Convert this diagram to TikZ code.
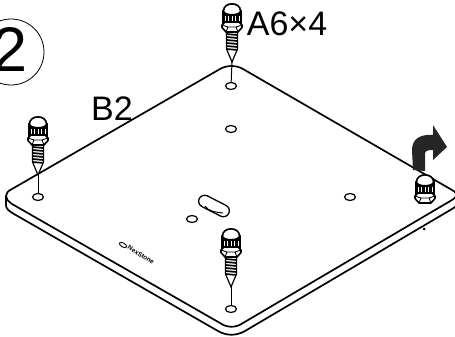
\documentclass[tikz,border=0pt]{standalone}
\usepackage{fontspec}
\setmainfont{Liberation Sans}
\usetikzlibrary{positioning,shapes.geometric}
\tikzset{
  hole/.style={ellipse,draw,line width=1.2pt,minimum width=11pt,minimum height=7pt,inner sep=0pt},
  plateline/.style={line width=1.7pt,line join=round},
  callout/.style={inner sep=0pt,font=\fontsize{34}{34}\selectfont},
  guide/.style={line width=1pt},
  screwhead/.pic={
    % knurled collar
    \fill (-10,-52) -- (10,-52) -- (10,-38) -- (-10,-38) -- cycle;
    \foreach \i in {-7,-3.5,0,3.5,7} \draw[white,line width=.4pt] (\i,-46) -- (\i,-41);
    % cap
    \draw[line width=1.6pt,fill=white] (-8.5,-51) .. controls (-8.5,-60.5) and (8.5,-60.5) .. (8.5,-51)
      .. controls (8.5,-46) and (-8.5,-46) .. cycle;
    % hex nut
    \draw[line width=1.6pt,fill=white,line join=round] (-10,-37) -- (-7,-40) -- (7,-40) -- (10,-37) -- (10,-34.5) -- (6,-30) -- (-6,-30) -- (-10,-34.5) -- cycle;
    \draw[line width=.9pt] (-10,-37) -- (-4,-35) -- (4,-35) -- (10,-37) (-4,-35) -- (-6,-30) (4,-35) -- (6,-30);
  },
  screwthread/.pic={
    \fill[white] (-5.5,-30) -- (5.5,-30) -- (5.5,-13) -- (0,0) -- (-5.5,-13) -- cycle;
    \foreach \i in {-28,-25,-22,-19,-16,-13} \draw[line width=1.7pt] (-5.5,\i) -- (5.5,\i+1);
    \draw[line width=1.2pt] (-5.5,-30) -- (-5.5,-13) -- (0,0) -- (5.5,-13) -- (5.5,-30);
  }
}
\begin{document}
\begin{tikzpicture}[x=1pt,y=-1pt]
  \useasboundingbox (0,0) rectangle (455,337);
  % plate
  \draw[plateline] (12,189) -- (220,69) .. controls (227,65) and (236,65) .. (243,69)
    -- (452,190) .. controls (458,193.5) and (458,196) .. (452,200)
    -- (243,323) .. controls (236,328) and (227,328) .. (220,323)
    -- (12,204) .. controls (8,201) and (6,199) .. (6,196)
    .. controls (6,193) and (8,191) .. (12,189);
  \draw[plateline] (6,196) -- (6,205) .. controls (6,209) and (9,211) .. (14,214)
    -- (218,331) .. controls (227,336) and (236,336) .. (245,331)
    -- (452,209) .. controls (456,207) and (458,204) .. (458,198);
  % holes
  \node[hole] (holeTop) at (231,86) {};
  \node[hole] (holeLeft) at (38,197) {};
  \node[hole] (holeBottom) at (231,309) {};
  \node[hole] (holeUpper) at (231,129) {};
  \node[hole] (holeRight) at (350,197) {};
  \node[hole] (holeCenter) at (192,219) {};
  \node[draw,line width=1.3pt,rounded corners=6pt,minimum width=33pt,minimum height=12pt,inner sep=0pt,rotate=-27] (slot) at (214,206) {};
  \draw[line width=1pt] (205,206) .. controls (208,211) and (214,212) .. (223,213);
  % screws
  \coordinate (tipTop) at (232,62);
  \coordinate (tipLeft) at (38,175);
  \coordinate (tipBottom) at (231,287);
  \draw[guide] (tipTop) -- (holeTop);
  \draw[guide] (tipLeft) -- (holeLeft);
  \draw[guide] (tipBottom) -- (holeBottom);
  \foreach \t in {tipTop,tipLeft,tipBottom} {
    \path (\t) pic {screwthread} pic {screwhead};
  }
  \path (425,233) pic {screwhead};
  \fill (424,229) circle (1.5pt);
  % rotation arrow
  \fill[black!85] (447,147) -- (433,125) -- (433,135) .. controls (420,134) and (412,139) .. (412,150)
    -- (413,170) -- (425,171) -- (425,154) .. controls (425,151) and (427,150) .. (433,150)
    -- (433,160) -- cycle;
  % labels
  \draw[line width=.8pt] (11,52) circle (33);
  \node[callout,font=\fontsize{63}{63}\selectfont] (stepNo) at (10,50) {2};
  \node[callout] (labelPlate) at (112,109) {B2};
  \node[callout] (labelScrew) at (287,24) {A6×4};
  \node[ellipse,draw,line width=.9pt,minimum width=8pt,minimum height=4pt,inner sep=0pt,rotate=-30] (logoMark) at (123,245) {};
  \node[inner sep=0pt,rotate=-32,font=\fontsize{6.5}{6.5}\selectfont\bfseries] (logo) at (141,255) {NexStone};
\end{tikzpicture}
\end{document}
